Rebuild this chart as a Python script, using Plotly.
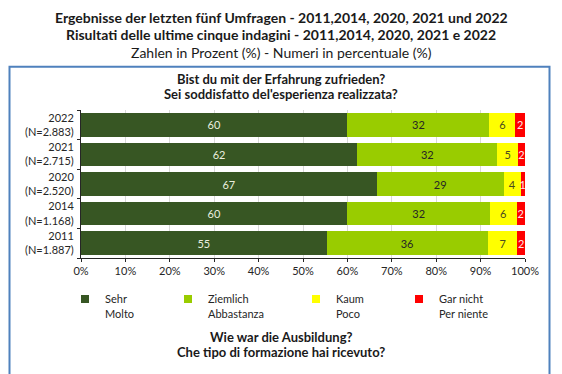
import plotly.graph_objects as go

# ---- data ----
years = ["2022<br>(N=2.883)", "2021<br>(N=2.715)", "2020<br>(N=2.520)",
         "2014<br>(N=1.168)", "2011<br>(N=1.887)"]
sehr = [60.0, 62.2, 66.6, 60.0, 55.3]
ziemlich = [32.0, 31.6, 28.6, 32.1, 36.3]
kaum = [5.8, 4.6, 3.8, 6.0, 6.7]
gar_nicht = [2.2, 1.6, 1.0, 1.9, 1.7]
series_names = ["Sehr<br>Molto", "Ziemlich<br>Abbastanza", "Kaum<br>Poco", "Gar nicht<br>Per niente"]
x_ticks = [0, 10, 20, 30, 40, 50, 60, 70, 80, 90, 100]
x_tick_labels = ["0%", "10%", "20%", "30%", "40%", "50%", "60%", "70%", "80%", "90%", "100%"]

colors = ["#375623", "#99cc00", "#ffff00", "#ff0000"]
text_colors = ["#e9eedf", "#262626", "#4a4a22", "#ffe6e6"]

# page offset (default body margin of the html page)
OFF = 8
W, H = 562, 374
# plot area in page pixels: x 81..525, y 110..258.5
L = 81 - OFF
R = W - (525 - OFF)
T = 110 - OFF
B = H - (258.5 - OFF)
PW, PH = W - L - R, H - T - B

def px(xp):
    return (xp - OFF - L) / PW

def py(yp):
    return (H - B - (yp - OFF)) / PH

FONT = "Lato"

fig = go.Figure()
for i, vals in enumerate([sehr, ziemlich, kaum, gar_nicht]):
    fig.add_trace(go.Bar(
        y=years, x=vals, orientation="h", name=series_names[i],
        marker=dict(color=colors[i], line=dict(width=0)),
        texttemplate="%{x:.0f}", textposition="inside",
        insidetextanchor="middle", textangle=0,
        textfont=dict(color=text_colors[i], size=11, family=FONT),
        showlegend=False, hoverinfo="skip",
    ))
    # legend entry (small square)
    fig.add_trace(go.Scatter(
        x=[None], y=[None], mode="markers", name=series_names[i],
        marker=dict(symbol="square", size=8, color=colors[i]),
        legend="legend" if i == 0 else f"legend{i+1}",
        showlegend=True,
    ))

legend_x = [65, 168, 296, 399]   # page pixels
legends = {}
for i, lx in enumerate(legend_x):
    key = "legend" if i == 0 else f"legend{i+1}"
    legends[key] = dict(
        x=px(lx), y=py(286), xanchor="left", yanchor="top",
        bgcolor="rgba(0,0,0,0)", font=dict(size=11, family=FONT, color="#262626"),
        valign="top", itemwidth=30, borderwidth=0,
    )

fig.update_layout(
    width=W, height=H,
    margin=dict(l=L, r=R, t=T, b=B),
    paper_bgcolor="white", plot_bgcolor="white",
    barmode="stack", bargap=0.2,
    uniformtext=dict(minsize=11, mode="show"),
    font=dict(family=FONT, size=11, color="#262626"),
    xaxis=dict(
        range=[0, 100], tickvals=x_ticks, ticktext=x_tick_labels,
        showgrid=True, gridcolor="#d9d9d9", gridwidth=1,
        showline=True, linecolor="#262626", linewidth=1,
        ticks="outside", ticklen=3, tickcolor="#262626",
        zeroline=False, tickfont=dict(size=11, family=FONT),
    ),
    yaxis=dict(
        categoryorder="array", categoryarray=years[::-1],
        showgrid=False, showline=True, linecolor="#262626", linewidth=1,
        ticks="outside", ticklen=3, tickson="boundaries", tickcolor="#262626",
        tickfont=dict(size=11, family=FONT), zeroline=False,
        ticklabelstandoff=4,
    ),
    showlegend=True,
    **legends,
)

# outer frame
fig.add_shape(type="rect", xref="paper", yref="paper",
              x0=px(9.5), x1=px(549.5), y0=py(400), y1=py(66.5),
              line=dict(color="#4f81bd", width=2), fillcolor="rgba(0,0,0,0)", layer="below")

def ann(text, yp, size, bold=False):
    fig.add_annotation(
        text=f"<b>{text}</b>" if bold else text,
        xref="paper", yref="paper", x=px(281), y=py(yp),
        xanchor="center", yanchor="middle", showarrow=False,
        font=dict(size=size, family=FONT, color="#1a1a1a"),
    )

ann("Ergebnisse der letzten fünf Umfragen - 2011,2014, 2020, 2021 und 2022", 16.7, 14, True)
ann("Risultati delle ultime cinque indagini - 2011,2014, 2020, 2021 e 2022", 34.3, 14, True)
ann("Zahlen in Prozent (%) - Numeri in percentuale (%)", 52.3, 14)
ann("Bist du mit der Erfahrung zufrieden?", 79, 13, True)
ann("Sei soddisfatto del'esperienza realizzata?", 94, 13, True)
ann("Wie war die Ausbildung?", 338, 13, True)
ann("Che tipo di formazione hai ricevuto?", 353, 13, True)

fig.write_html("out.html")
